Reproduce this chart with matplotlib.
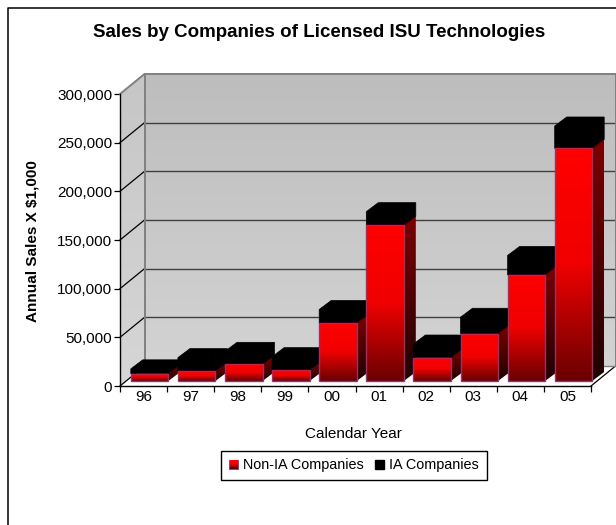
import numpy as np
import matplotlib
matplotlib.use('Agg')
import matplotlib.pyplot as plt
from matplotlib.colors import LinearSegmentedColormap
from matplotlib.legend_handler import HandlerBase
from matplotlib.lines import Line2D
from matplotlib.patches import Patch, Polygon, Rectangle

plt.rcParams['font.family'] = ['Liberation Sans', 'DejaVu Sans']

years = ['96', '97', '98', '99', '00', '01', '02', '03', '04', '05']
non_ia = [7500, 10000, 17000, 11000, 59500, 160000, 24000, 48500, 109000, 239000]
ia = [5000, 14000, 13500, 14000, 14000, 14000, 14000, 17000, 20000, 23000]
y_ticks = [0, 50000, 100000, 150000, 200000, 250000, 300000]

W, H = 616, 525
x0, x1, y_bot, y_top = 120, 591, 386, 94

fig = plt.figure(figsize=(W / 100, H / 100), dpi=100)
ax = fig.add_axes([x0 / W, 1 - y_bot / H, (x1 - x0) / W, (y_bot - y_top) / H])

# pixel sizes turned into data units, for the fake 3d depth
px_x = len(years) / (x1 - x0)
px_y = 300000 / (y_bot - y_top)
wall_dx, wall_dy = 24.5 * px_x, 20 * px_y
bar_dx, bar_dy = 12 * px_x, 9 * px_y
off_x, off_y = 6 * px_x, 5 * px_y
bar_w = 37.5 * px_x

front_cm = LinearSegmentedColormap.from_list('front', ['#ff0000', '#f00000', '#6a0000'])
side_cm = LinearSegmentedColormap.from_list('side', ['#7c0000', '#1e0000'])
wall_cm = LinearSegmentedColormap.from_list('wall', ['#bdbdbd', '#d3d3d3'])
side_wall_cm = LinearSegmentedColormap.from_list('swall', ['#c6c6c6', '#d6d6d6'])
grad = np.linspace(0, 1, 128).reshape(-1, 1)


def grad_fill(cmap, xs, ys, zorder):
    poly = Polygon(list(zip(xs, ys)), closed=True, fc='none', ec='none', transform=ax.transData)
    ax.add_patch(poly)
    poly.set_clip_on(False)
    im = ax.imshow(grad, cmap=cmap, aspect='auto', origin='upper', vmin=0, vmax=1,
                   extent=[min(xs), max(xs), min(ys), max(ys)], zorder=zorder)
    # clip_on=False would also switch the clip path off
    im.set_clip_box(fig.bbox)
    im.set_clip_path(poly)


n = len(years)
top = y_ticks[-1]

# back wall, left wall, floor
grad_fill(wall_cm, [wall_dx, n + wall_dx, n + wall_dx, wall_dx],
          [wall_dy, wall_dy, top + wall_dy, top + wall_dy], 1)
grad_fill(side_wall_cm, [0, wall_dx, wall_dx, 0],
          [0, wall_dy, top + wall_dy, top], 1)
ax.add_patch(Polygon([(0, 0), (wall_dx, wall_dy), (n + wall_dx, wall_dy), (n, 0)],
                     fc='white', ec='none', zorder=1, clip_on=False))
ax.plot([n, n + wall_dx], [0, wall_dy], color='black', lw=0.9, zorder=2, clip_on=False)
ax.plot([wall_dx, n + wall_dx], [wall_dy, wall_dy], color='#808080', lw=1.0, zorder=2, clip_on=False)
ax.plot([0, wall_dx], [0, wall_dy], color='black', lw=0.9, zorder=2, clip_on=False)

for v in y_ticks[1:-1]:
    ax.plot([wall_dx, n + wall_dx], [v + wall_dy, v + wall_dy], color='#404040', lw=1.0, zorder=2,
            clip_on=False)
    ax.plot([0, wall_dx], [v, v + wall_dy], color='black', lw=0.9, zorder=2, clip_on=False)
ax.plot([0, wall_dx, n + wall_dx], [top, top + wall_dy, top + wall_dy], color='#808080', lw=1.4,
        zorder=2, clip_on=False)
ax.plot([wall_dx, wall_dx], [wall_dy, top + wall_dy], color='#808080', lw=1.4, zorder=2, clip_on=False)
ax.plot([n + wall_dx, n + wall_dx], [wall_dy, top + wall_dy], color='#808080', lw=1.4, zorder=2,
        clip_on=False)

# bars, left to right so the next one covers the side of the last
z = 3
for i, (red, black) in enumerate(zip(non_ia, ia)):
    left = i + 0.5 - bar_w / 2 + off_x
    right = left + bar_w
    b = off_y
    t1 = b + red
    t2 = t1 + black
    grad_fill(side_cm, [right, right + bar_dx, right + bar_dx, right],
              [b, b + bar_dy, t1 + bar_dy, t1], z)
    # whole black block as one outline, separate faces leave a seam
    ax.add_patch(Polygon([(left, t1), (right, t1), (right + bar_dx, t1 + bar_dy),
                          (right + bar_dx, t2 + bar_dy), (left + bar_dx, t2 + bar_dy), (left, t2)],
                         fc='black', ec='black', lw=0.5, zorder=z, clip_on=False))
    grad_fill(front_cm, [left, right, right, left], [b, b, t1, t1], z + 0.1)
    ax.add_patch(Rectangle((left, b), bar_w, red, fc='none', ec='#993366', lw=1.0, zorder=z + 0.2,
                           clip_on=False))
    z += 1

ax.set_xlim(0, n)
ax.set_ylim(0, top)
ax.set_facecolor('none')
ax.set_xticks(np.arange(n + 1))
ax.set_xticklabels([])
ax.set_xticks(np.arange(n) + 0.5, minor=True)
ax.set_xticklabels(years, minor=True, fontsize=11)
ax.tick_params(axis='x', which='major', length=4, width=0.9, color='black')
ax.tick_params(axis='x', which='minor', length=0, pad=3)
ax.set_yticks(y_ticks)
ax.set_yticklabels(['{:,}'.format(v) for v in y_ticks], fontsize=11)
ax.tick_params(axis='y', length=4, width=0.9, pad=1.5)
for side in ['top', 'right']:
    ax.spines[side].set_visible(False)
for side in ['left', 'bottom']:
    ax.spines[side].set_linewidth(1.0)
    ax.spines[side].set_zorder(50)

fig.text(319 / W, 1 - 32.5 / H, 'Sales by Companies of Licensed ISU Technologies', fontsize=13.5,
         fontweight='bold', ha='center', va='center')
fig.text(33 / W, 1 - 241 / H, 'Annual Sales X $1,000', fontsize=11, fontweight='bold', rotation=90,
         ha='center', va='center')
fig.text(353.5 / W, 1 - 434 / H, 'Calendar Year', fontsize=11, ha='center', va='center')

# chart frame runs off the right and bottom edges
fig.add_artist(Line2D([8 / W, 8 / W, 1], [0, 1 - 7.5 / H, 1 - 7.5 / H], color='black', lw=1.1))


class GradSwatch(HandlerBase):
    def create_artists(self, legend, orig, xd, yd, width, height, fontsize, trans):
        size = 9 * 0.72
        x = -xd + (width - size) / 2
        y = -yd + (height - size) / 2
        parts = [Rectangle((x, y), size, size, fc='#993366', ec='#993366', lw=0.6, transform=trans)]
        for k in range(6):
            col = front_cm(k / 5)
            parts.append(Rectangle((x + 0.5, y + size - (k + 1) * size / 6), size - 1, size / 6,
                                   fc=col, ec='none', transform=trans))
        return parts


handles = [Patch(label='Non-IA Companies'), Patch(fc='black', ec='black', label='IA Companies')]
leg = fig.legend(handles, ['Non-IA Companies', 'IA Companies'], ncol=2, fontsize=10.4, fancybox=False,
                 edgecolor='black', framealpha=1, loc='center', bbox_to_anchor=(354 / W, 1 - 465.5 / H),
                 handler_map={handles[0]: GradSwatch()}, handlelength=0.62, handleheight=0.62,
                 handletextpad=0.35, columnspacing=0.75, borderpad=0.55, borderaxespad=0)
leg.get_frame().set_linewidth(1.0)

fig.savefig('out.png', dpi=100)
